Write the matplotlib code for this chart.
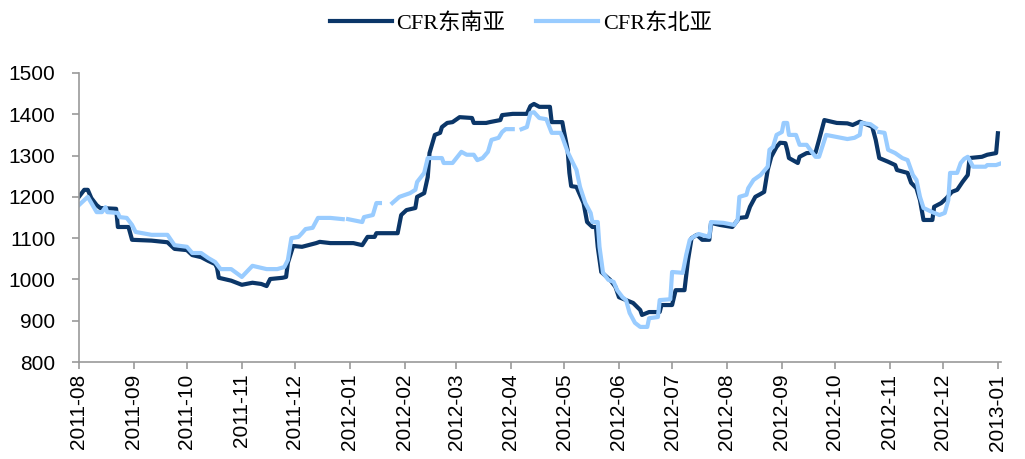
import numpy as np
import pandas as pd
import matplotlib
matplotlib.use('Agg')
import matplotlib.pyplot as plt
import matplotlib.dates as mdates

start = pd.Timestamp('2011-08-01')

# CFR东南亚 (days since 2011-08-01, price)
days_se = [0, 3, 5, 7, 10, 12, 21, 22, 28, 30, 41, 50, 54, 61, 64, 69, 73, 77, 78, 79,
           86, 92, 98, 103, 106, 108, 115, 117, 118, 121, 126, 134, 136, 142, 155, 160, 163, 167, 168, 180,
           182, 185, 190, 191, 195, 197, 198, 201, 204, 205, 208, 211, 215, 222, 223, 230, 232, 238, 239, 245,
           253, 255, 257, 260, 266, 267, 273, 274, 276, 277, 278, 281, 285, 287, 290, 292, 293, 295, 300, 303,
           305, 309, 313, 317, 318, 322, 328, 329, 335, 337, 342, 344, 346, 349, 352, 356, 357, 362, 369, 373,
           377, 379, 382, 385, 387, 389, 391, 394, 396, 399, 400, 401, 406, 407, 411, 416, 418, 421, 428, 434,
           437, 441, 448, 450, 452, 457, 461, 462, 468, 470, 473, 475, 477, 482, 483, 487, 490, 493, 496, 499,
           502, 503, 510, 513, 518, 519]
price_se = [1200, 1217, 1217, 1197, 1180, 1173, 1171, 1127, 1127, 1096, 1094, 1090, 1074, 1071, 1059, 1054, 1045, 1037, 1028, 1004,
            997, 987, 992, 989, 984, 1001, 1004, 1006, 1040, 1081, 1079, 1088, 1091, 1088, 1088, 1083, 1103, 1103, 1112, 1112,
            1156, 1168, 1173, 1200, 1209, 1248, 1306, 1350, 1355, 1369, 1379, 1381, 1393, 1391, 1379, 1379, 1381, 1386, 1398, 1401,
            1401, 1420, 1425, 1418, 1418, 1381, 1381, 1357, 1314, 1258, 1226, 1224, 1185, 1139, 1127, 1127, 1079, 1018, 999, 982,
            957, 950, 943, 926, 914, 921, 921, 938, 938, 974, 974, 1047, 1100, 1108, 1096, 1096, 1137, 1132, 1127, 1149,
            1151, 1176, 1200, 1207, 1212, 1265, 1297, 1321, 1331, 1330, 1314, 1294, 1282, 1297, 1306, 1307, 1338, 1386, 1379, 1378,
            1374, 1382, 1370, 1338, 1294, 1285, 1277, 1265, 1258, 1234, 1221, 1192, 1144, 1144, 1176, 1185, 1197, 1212, 1217, 1236,
            1253, 1294, 1297, 1302, 1306, 1354]

# CFR东北亚 (nan = missing quote)
days_ne = [0, 5, 7, 10, 13, 15, 16, 22, 23, 27, 30, 32, 36, 41, 50, 54, 61, 64, 69, 73,
           77, 80, 86, 92, 98, 103, 106, 112, 116, 118, 120, 124, 126, 128, 132, 135, 142, 149, 151, 152,
           160, 161, 166, 168, 170, 173, 177, 181, 187, 190, 191, 195, 197, 205, 206, 211, 216, 219, 223, 225,
           228, 231, 233, 237, 239, 241, 245, 247, 250, 253, 255, 257, 260, 264, 267, 272, 273, 276, 279, 281,
           283, 286, 289, 290, 293, 294, 296, 299, 302, 304, 307, 309, 311, 314, 317, 321, 322, 327, 328, 334,
           335, 341, 343, 345, 347, 350, 356, 357, 364, 370, 372, 373, 377, 378, 381, 385, 389, 390, 392, 394,
           397, 398, 400, 401, 405, 407, 411, 413, 416, 418, 422, 428, 434, 438, 441, 442, 447, 450, 451, 452,
           455, 457, 461, 465, 468, 471, 473, 475, 477, 482, 486, 489, 491, 492, 496, 498, 500, 502, 505, 512,
           513, 518, 520]
price_ne = [1180, 1200, 1185, 1163, 1163, 1175, 1163, 1161, 1151, 1149, 1132, 1115, 1112, 1108, 1108, 1083, 1079, 1064, 1064, 1052,
            1042, 1025, 1025, 1006, 1033, 1028, 1025, 1025, 1030, 1047, 1100, 1103, 1112, 1122, 1125, 1149, 1149, 1146, np.nan, 1146,
            1139, 1151, 1156, 1185, 1185, np.nan, 1185, 1200, 1209, 1217, 1236, 1258, 1294, 1294, 1282, 1282, 1309, 1302, 1302, 1289,
            1294, 1309, 1338, 1343, 1357, 1364, 1364, np.nan, 1364, 1369, 1403, 1405, 1391, 1388, 1355, 1355, 1345, 1309, 1282, 1265,
            1224, 1185, 1161, 1139, 1139, 1079, 1016, 999, 994, 974, 957, 950, 919, 895, 885, 885, 906, 909, 950, 952,
            1018, 1016, 1060, 1096, 1103, 1110, 1103, 1139, 1137, 1132, 1144, 1200, 1205, 1221, 1241, 1253, 1273, 1314, 1321, 1350,
            1357, 1379, 1379, 1350, 1350, 1326, 1326, 1314, 1297, 1297, 1350, 1345, 1340, 1343, 1350, 1379, 1376, 1367, np.nan, 1357,
            1355, 1314, 1306, 1294, 1289, 1253, 1241, 1200, 1173, 1163, 1156, 1161, 1192, 1258, 1258, 1282, 1292, 1297, 1273, 1273,
            1277, 1277, 1280]

dates_se = start + pd.to_timedelta(days_se, unit='D')
dates_ne = start + pd.to_timedelta(days_ne, unit='D')

fig = plt.figure(figsize=(10.25, 4.59), dpi=100)
ax = fig.add_axes([0.077, 0.2113, 0.9, 0.6297])

ax.plot(dates_se, price_se, color='#0b3668', lw=3, label='CFR东南亚')
ax.plot(dates_ne, price_ne, color='#99ccff', lw=3, label='CFR东北亚')

ax.set_ylim(800, 1500)
ax.set_yticks(range(800, 1501, 100))
ax.set_xlim(pd.Timestamp('2011-08-01'), pd.Timestamp('2013-01-03'))
ax.xaxis.set_major_locator(mdates.MonthLocator())
ax.xaxis.set_major_formatter(mdates.DateFormatter('%Y-%m'))
plt.setp(ax.get_xticklabels(), rotation=90)

for s in ['top', 'right']:
    ax.spines[s].set_visible(False)
for s in ['left', 'bottom']:
    ax.spines[s].set_color('#999999')
    ax.spines[s].set_linewidth(1.2)
ax.tick_params(colors='#999999', length=5, width=1.2, labelcolor='black')
ax.tick_params(axis='y', pad=12)
for lbl in ax.get_xticklabels() + ax.get_yticklabels():
    lbl.set_family('Liberation Sans')
    lbl.set_fontsize(15)

fig.legend(loc='upper center', bbox_to_anchor=(0.508, 1.015), ncol=2, frameon=False,
           handlelength=2.8, columnspacing=1.4, handletextpad=0.2,
           prop={'family': ['Liberation Serif', 'Noto Sans CJK SC'], 'size': 16})

fig.savefig('out.png', dpi=100)
